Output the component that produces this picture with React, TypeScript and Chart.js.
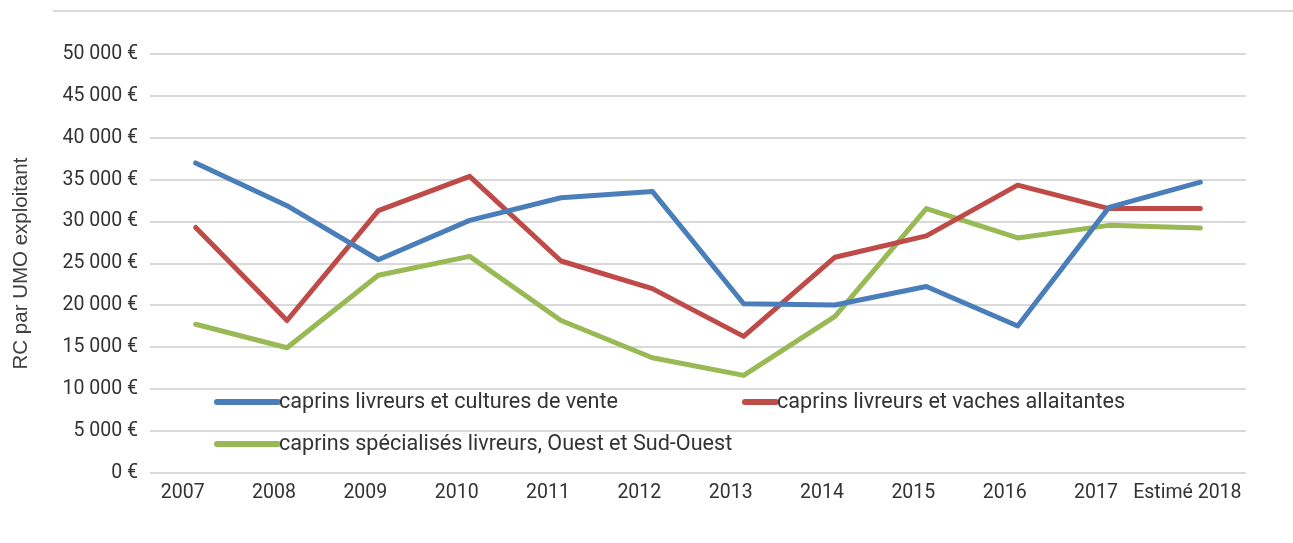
import React, { useEffect, useRef } from "react";
import { Chart, registerables } from "chart.js";

Chart.register(...registerables);

const categories = ["2007", "2008", "2009", "2010", "2011", "2012", "2013", "2014", "2015", "2016", "2017", "Estimé 2018"];
const seriesCultures = [37000, 31900, 25450, 30150, 32850, 33600, 20200, 20050, 22250, 17550, 31700, 34700];
const seriesVaches = [29300, 18200, 31300, 35400, 25300, 22000, 16300, 25750, 28300, 34350, 31550, 31550];
const seriesSpecialises = [17750, 14950, 23600, 25850, 18200, 13750, 11650, 18700, 31550, 28050, 29550, 29250];
const seriesNames = [
  "caprins livreurs et cultures de vente",
  "caprins livreurs et vaches allaitantes",
  "caprins spécialisés livreurs, Ouest et Sud-Ouest",
];
const colors = ["#4A7EBB", "#BE4B48", "#98B954"];
const yTitle = "RC par UMO exploitant";

const fmt = (v: number) => {
  if (v === 0) return "0 €";
  const s = String(v);
  return s.replace(/\B(?=(\d{3})+(?!\d))/g, " ") + " €";
};

const overlay = {
  id: "overlay",
  afterDraw(chart: any) {
    const ctx = chart.ctx;
    ctx.save();
    // top rule
    ctx.strokeStyle = "#D9D9D9";
    ctx.lineWidth = 2;
    ctx.beginPath();
    ctx.moveTo(53, 11);
    ctx.lineTo(1293, 11);
    ctx.stroke();
    // legend
    const items = [
      { x1: 217, x2: 278, y: 402, i: 0 },
      { x1: 745, x2: 776, y: 402, i: 1 },
      { x1: 217, x2: 278, y: 444, i: 2 },
    ];
    ctx.font = "21.6px Roboto";
    ctx.textBaseline = "middle";
    ctx.textAlign = "left";
    for (const it of items) {
      const ds = chart.data.datasets[it.i];
      ctx.strokeStyle = ds.borderColor;
      ctx.lineWidth = 6;
      ctx.lineCap = "round";
      ctx.beginPath();
      ctx.moveTo(it.x1, it.y);
      ctx.lineTo(it.x2, it.y);
      ctx.stroke();
      ctx.fillStyle = "#333333";
      ctx.fillText(ds.label, it.x2 + 1, it.y + 1);
    }
    ctx.restore();
  },
};

export default function App() {
  const ref = useRef<HTMLCanvasElement>(null);
  useEffect(() => {
    const chart = new Chart(ref.current!, {
      type: "line",
      data: {
        labels: categories,
        datasets: [seriesCultures, seriesVaches, seriesSpecialises].map((d, i) => ({
          label: seriesNames[i],
          data: d,
          borderColor: colors[i],
          backgroundColor: colors[i],
          borderWidth: 5,
          pointRadius: 0,
          tension: 0,
          fill: false,
          borderCapStyle: "round" as const,
          borderJoinStyle: "round" as const,
        })),
      },
      options: {
        animation: false,
        responsive: false,
        maintainAspectRatio: false,
        layout: { padding: { top: 54, right: 47, bottom: 0, left: 0 } },
        plugins: { legend: { display: false }, tooltip: { enabled: false } },
        scales: {
          x: {
            offset: true,
            grid: { display: false, drawTicks: false },
            border: { display: false },
            ticks: {
              color: "#333333",
              font: { family: "Roboto", size: 19.5 },
              padding: 8,
              labelOffset: -13,
              maxRotation: 0,
              autoSkip: false,
            },
            afterFit: (axis: any) => {
              axis.height = 70;
            },
          },
          y: {
            min: 0,
            max: 50000,
            grid: { color: "#D9D9D9", lineWidth: 2, drawTicks: false },
            border: { display: false },
            ticks: {
              stepSize: 5000,
              color: "#333333",
              font: { family: "Roboto", size: 19.5 },
              padding: 12,
              callback: (v: any) => fmt(Number(v)),
            },
            title: {
              display: true,
              text: yTitle,
              color: "#404040",
              font: { family: "Liberation Sans", size: 20.5 },
              padding: { top: 9, bottom: 0 },
            },
            afterFit: (axis: any) => {
              axis.width = 150;
            },
          },
        },
      },
      plugins: [overlay],
    });
    return () => chart.destroy();
  }, []);
  return (
    <div style={{ position: "fixed", left: 0, top: 0, width: 1293, height: 543, background: "#fff" }}>
      <canvas ref={ref} width={1293} height={543} style={{ width: 1293, height: 543 }} />
    </div>
  );
}
